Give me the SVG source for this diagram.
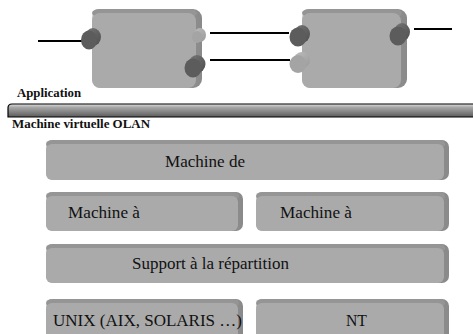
<svg xmlns="http://www.w3.org/2000/svg" width="473" height="334" viewBox="0 0 473 334">
  <defs>
    <linearGradient id="barGrad" x1="0" y1="0" x2="0" y2="1">
      <stop offset="0" stop-color="#e0e0e0"/>
      <stop offset="0.25" stop-color="#a8a8a8"/>
      <stop offset="0.7" stop-color="#7a7a7a"/>
      <stop offset="1" stop-color="#5a5a5a"/>
    </linearGradient>
    <linearGradient id="rightBevel" x1="0" y1="0" x2="1" y2="0">
      <stop offset="0" stop-color="#c4c4c4"/>
      <stop offset="0.5" stop-color="#a0a0a0"/>
      <stop offset="1" stop-color="#8a8a8a"/>
    </linearGradient>
    <linearGradient id="darkPort" x1="0" y1="0" x2="1" y2="1">
      <stop offset="0" stop-color="#777"/>
      <stop offset="1" stop-color="#4e4e4e"/>
    </linearGradient>
    <linearGradient id="lightPort" x1="0" y1="0" x2="1" y2="1">
      <stop offset="0" stop-color="#bdbdbd"/>
      <stop offset="1" stop-color="#9a9a9a"/>
    </linearGradient>
  </defs>
  <style>
    .back { fill: url(#rightBevel); }
    .top { fill: #959595; }
    .face { fill: #aaaaaa; }
    text { font-family: "Liberation Serif", "Times New Roman", serif; }
    .big { font-size: 17px; fill: #111; }
    .lbl { font-size: 11.5px; font-weight: bold; fill: #111; }
    .wire { stroke: #000; stroke-width: 2; fill: none; }
    .pdark { fill: url(#darkPort); }
    .pdarkcap { fill: #5c5c5c; }
    .plight { fill: url(#lightPort); }
    .plightcap { fill: #a4a4a4; }
  </style>

  <rect width="473" height="334" fill="#ffffff"/>

  <!-- wires between components -->
  <g id="connectors">
    <line class="wire" x1="38" y1="41" x2="83" y2="41"/>
    <line class="wire" x1="210" y1="33" x2="289" y2="33"/>
    <line class="wire" x1="210" y1="60" x2="290" y2="60"/>
    <line class="wire" x1="414" y1="29" x2="452" y2="29"/>
  </g>

  <!-- component 1 -->
  <g id="component1">
    <rect class="back" x="92" y="9" width="110" height="79" rx="9"/>
    <rect class="top" x="92" y="9" width="105" height="8" rx="7"/>
    <rect class="face" x="92" y="13" width="104" height="75" rx="8"/>
    <g id="c1-port-left">
      <ellipse class="pdark" cx="93" cy="37" rx="8" ry="9"/>
      <ellipse class="pdarkcap" cx="89" cy="40" rx="8" ry="9.5"/>
    </g>
    <g id="c1-port-right-top">
      <ellipse class="plight" cx="200" cy="35" rx="6" ry="7"/>
      <ellipse class="plightcap" cx="197" cy="37" rx="5" ry="6"/>
    </g>
    <g id="c1-port-right-bottom">
      <ellipse class="pdark" cx="197" cy="64" rx="8.5" ry="9"/>
      <ellipse class="pdarkcap" cx="193" cy="68" rx="8.5" ry="9.5"/>
    </g>
  </g>

  <!-- component 2 -->
  <g id="component2">
    <rect class="back" x="302" y="9" width="105" height="79" rx="9"/>
    <rect class="top" x="302" y="9" width="100" height="8" rx="7"/>
    <rect class="face" x="302" y="13" width="99" height="75" rx="8"/>
    <g id="c2-port-left-top">
      <ellipse class="pdark" cx="302" cy="34" rx="8" ry="9"/>
      <ellipse class="pdarkcap" cx="298" cy="37" rx="8.5" ry="9.5"/>
    </g>
    <g id="c2-port-left-bottom">
      <ellipse class="plight" cx="302" cy="60" rx="8" ry="8"/>
      <ellipse class="plightcap" cx="298" cy="64" rx="8.5" ry="9"/>
    </g>
    <g id="c2-port-right">
      <ellipse class="pdark" cx="402" cy="32" rx="8" ry="9"/>
      <ellipse class="pdarkcap" cx="398" cy="36" rx="8.5" ry="9.5"/>
    </g>
  </g>

  <text class="lbl" x="17" y="97" textLength="64" lengthAdjust="spacingAndGlyphs">Application</text>

  <!-- layer separator bar -->
  <g id="separator">
    <path d="M8,117 L8,108 Q8,104 12,104 L474,104 L474,117 Z" fill="url(#barGrad)" stroke="#000" stroke-width="1.2"/>
  </g>

  <text class="lbl" x="12" y="128" textLength="138" lengthAdjust="spacingAndGlyphs">Machine virtuelle OLAN</text>

  <!-- layered platform blocks -->
  <g id="machine-de">
    <rect class="back" x="46" y="140" width="403" height="40" rx="7"/>
    <rect class="top" x="46" y="140" width="399" height="8" rx="6"/>
    <rect class="face" x="46" y="144" width="398" height="36" rx="6"/>
    <text class="big" x="165" y="167" textLength="80" lengthAdjust="spacingAndGlyphs">Machine de</text>
  </g>

  <g id="machine-a-left">
    <rect class="back" x="46" y="192" width="197" height="39" rx="7"/>
    <rect class="top" x="46" y="192" width="193" height="8" rx="6"/>
    <rect class="face" x="46" y="196" width="192" height="35" rx="6"/>
    <text class="big" x="68" y="218" textLength="72" lengthAdjust="spacingAndGlyphs">Machine à</text>
  </g>

  <g id="machine-a-right">
    <rect class="back" x="256" y="192" width="193" height="39" rx="7"/>
    <rect class="top" x="256" y="192" width="189" height="8" rx="6"/>
    <rect class="face" x="256" y="196" width="188" height="35" rx="6"/>
    <text class="big" x="280" y="218" textLength="72" lengthAdjust="spacingAndGlyphs">Machine à</text>
  </g>

  <g id="support">
    <rect class="back" x="46" y="244" width="403" height="39" rx="7"/>
    <rect class="top" x="46" y="244" width="399" height="8" rx="6"/>
    <rect class="face" x="46" y="248" width="398" height="35" rx="6"/>
    <text class="big" x="132" y="269" textLength="157" lengthAdjust="spacingAndGlyphs">Support à la répartition</text>
  </g>

  <g id="unix">
    <rect class="back" x="46" y="299" width="197" height="45" rx="7"/>
    <rect class="top" x="46" y="299" width="193" height="8" rx="6"/>
    <rect class="face" x="46" y="303" width="192" height="41" rx="6"/>
    <text class="big" x="53" y="326" textLength="189" lengthAdjust="spacingAndGlyphs">UNIX (AIX, SOLARIS …)</text>
  </g>

  <g id="nt">
    <rect class="back" x="256" y="299" width="193" height="45" rx="7"/>
    <rect class="top" x="256" y="299" width="189" height="8" rx="6"/>
    <rect class="face" x="256" y="303" width="188" height="41" rx="6"/>
    <text class="big" x="346" y="326" textLength="21" lengthAdjust="spacingAndGlyphs">NT</text>
  </g>
</svg>
